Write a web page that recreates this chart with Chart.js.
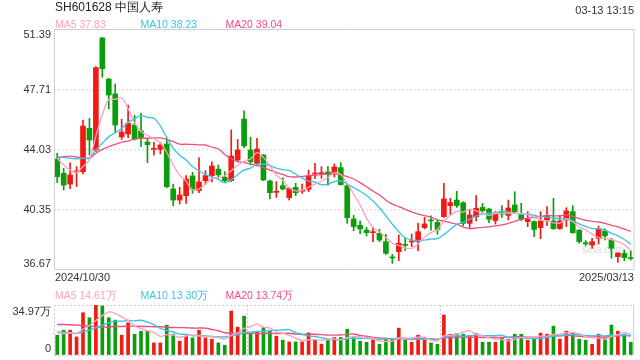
<!DOCTYPE html>
<html><head><meta charset="utf-8">
<script src="https://cdn.jsdelivr.net/npm/chart.js@4.4.1/dist/chart.umd.min.js"></script>
<style>
html,body{margin:0;padding:0;background:#fff;}
#wrap{position:relative;width:640px;height:360px;overflow:hidden;font-family:Arial,"Liberation Sans",sans-serif;}
.t{position:absolute;white-space:nowrap;line-height:1;}
canvas{position:absolute;left:0;}
</style></head><body>
<div id="wrap">
<div class="t" style="left:582px;top:244px;font-size:10.5px;color:#dcdcdc">sina.com</div>
<canvas id="pc" width="640" height="280" style="top:0;width:640px;height:280px"></canvas>
<canvas id="vc" width="640" height="70" style="top:290px;width:640px;height:70px"></canvas>
<div class="t" style="left:55px;top:1px;font-size:12px;color:#222" id="ttl"></div>
<div class="t" style="right:6px;top:4.5px;font-size:11px;color:#333" id="tm"></div>
<div class="t" style="left:55px;top:18.5px;font-size:10.5px;color:#ffa2bf" id="l1"></div>
<div class="t" style="left:140.5px;top:18.5px;font-size:10.5px;color:#3cc3e4" id="l2"></div>
<div class="t" style="left:225.5px;top:18.5px;font-size:10.5px;color:#ee4f80" id="l3"></div>
<div class="t" style="left:55px;top:271.5px;font-size:11px;color:#333" id="d1"></div>
<div class="t" style="right:6px;top:271.5px;font-size:11px;color:#333" id="d2"></div>
<div class="t" style="left:55px;top:289.5px;font-size:10.5px;color:#ffa2bf" id="v1"></div>
<div class="t" style="left:140.5px;top:289.5px;font-size:10.5px;color:#3cc3e4" id="v2"></div>
<div class="t" style="left:225.5px;top:289.5px;font-size:10.5px;color:#ee4f80" id="v3"></div>
</div>
<script>
const title = 'SH601628 中国人寿';
const timeStamp = '03-13 13:15';
const priceLegend = ['MA5 37.83', 'MA10 38.23', 'MA20 39.04'];
const volLegend = ['MA5 14.61万', 'MA10 13.30万', 'MA20 13.74万'];
const yTicks = [36.67, 40.35, 44.03, 47.71, 51.39];
const volTicks = [0, 34.97];

const dates = [
'2024/10/30','2024/10/31',
'2024/11/01','2024/11/04','2024/11/05','2024/11/06','2024/11/07','2024/11/08','2024/11/11','2024/11/12','2024/11/13','2024/11/14','2024/11/15',
'2024/11/18','2024/11/19','2024/11/20','2024/11/21','2024/11/22','2024/11/25','2024/11/26','2024/11/27','2024/11/28','2024/11/29',
'2024/12/02','2024/12/03','2024/12/04','2024/12/05','2024/12/06','2024/12/09','2024/12/10','2024/12/11','2024/12/12','2024/12/13',
'2024/12/16','2024/12/17','2024/12/18','2024/12/19','2024/12/20','2024/12/23','2024/12/24','2024/12/25','2024/12/26','2024/12/27','2024/12/30','2024/12/31',
'2025/01/02','2025/01/03','2025/01/06','2025/01/07','2025/01/08','2025/01/09','2025/01/10','2025/01/13','2025/01/14','2025/01/15','2025/01/16','2025/01/17',
'2025/01/20','2025/01/21','2025/01/22','2025/01/23','2025/01/24','2025/01/27',
'2025/02/05','2025/02/06','2025/02/07','2025/02/10','2025/02/11','2025/02/12','2025/02/13','2025/02/14','2025/02/17','2025/02/18','2025/02/19','2025/02/20','2025/02/21',
'2025/02/24','2025/02/25','2025/02/26','2025/02/27','2025/02/28',
'2025/03/03','2025/03/04','2025/03/05','2025/03/06','2025/03/07','2025/03/10','2025/03/11','2025/03/12','2025/03/13'];

const opens = [43.48,42.60,41.94,42.68,42.70,45.36,44.03,50.90,48.38,47.47,
44.83,45.01,45.56,45.20,44.52,44.07,44.07,44.40,41.64,40.96,
41.23,42.44,41.54,42.15,42.46,42.86,42.37,42.15,43.42,45.93,
44.03,43.21,43.72,42.13,41.43,41.84,41.11,41.74,41.50,41.62,
42.56,42.58,42.68,42.56,42.95,41.84,39.80,39.41,39.12,38.96,
38.92,38.41,37.45,37.80,38.22,38.39,38.41,39.27,39.72,39.59,
39.94,40.62,40.96,40.80,39.53,39.94,40.51,40.41,39.70,40.19,
40.02,40.66,40.04,39.64,39.64,39.27,39.74,39.68,39.21,39.74,
40.25,39.12,38.35,38.20,38.61,39.06,38.51,37.49,37.69,37.41];
const highs = [43.83,42.91,43.25,43.01,45.87,45.97,49.14,50.94,48.43,48.08,
45.91,46.79,46.16,46.30,44.75,44.50,44.50,44.75,41.94,41.74,
42.46,42.66,43.56,42.76,43.31,43.11,42.70,45.26,44.68,46.44,
44.81,44.75,43.76,42.19,42.09,42.33,41.72,41.99,41.94,42.80,
43.21,43.01,43.01,43.17,43.25,41.99,40.02,39.68,39.29,39.29,
39.16,38.86,37.63,38.82,38.61,38.88,39.53,39.90,40.00,39.74,
41.99,41.07,41.50,40.86,40.35,41.23,40.76,40.45,40.25,40.62,
40.96,41.47,40.76,40.25,39.68,40.25,40.56,41.07,40.00,40.49,
40.62,39.14,38.47,38.61,39.37,39.19,38.61,37.73,37.90,37.84];
const lows = [42.03,41.58,41.66,41.78,42.56,43.72,43.93,48.49,46.55,45.11,
44.68,44.79,44.64,44.23,43.25,43.72,43.79,41.72,40.62,40.72,
40.76,41.37,41.41,41.94,42.07,42.29,42.09,42.09,43.31,44.17,
43.11,43.05,42.15,41.03,41.13,41.58,40.96,41.23,41.37,41.47,
42.27,42.29,41.86,42.37,41.88,39.53,39.08,38.90,38.76,38.41,
38.41,37.63,37.08,37.24,37.86,38.10,37.86,39.19,39.12,38.86,
39.90,40.08,40.51,39.39,39.19,39.68,40.15,39.57,39.49,39.90,
39.74,40.15,39.70,39.33,38.72,38.59,39.39,39.16,39.16,39.33,
38.92,38.31,38.14,38.00,38.25,38.51,37.39,37.14,37.24,37.28];
const closes = [42.39,41.88,42.50,42.74,45.50,44.64,49.08,49.02,47.40,45.56,
45.13,45.67,44.70,44.79,44.36,44.11,44.34,41.78,40.96,41.27,
42.25,41.62,42.07,42.46,43.05,42.50,42.15,43.66,44.03,44.28,
43.31,44.09,42.19,41.41,41.50,41.64,41.68,41.41,41.54,42.46,
42.60,42.62,42.52,42.99,41.90,39.88,39.33,39.19,38.96,39.00,
38.51,37.69,37.41,38.31,38.18,38.43,39.02,39.49,39.68,39.16,
41.03,40.80,40.62,39.53,40.04,40.45,40.31,39.78,40.10,40.10,
40.47,40.25,39.78,39.78,39.16,39.68,40.00,39.21,39.68,40.29,
38.96,38.41,38.27,38.41,39.19,38.76,38.00,37.71,37.43,37.37];
// volumes in 万 (10k)
const volumes = [13.85,17.37,17.37,12.67,29.57,26.05,34.97,34.27,26.05,24.41,
13.85,22.53,14.55,16.66,16.66,8.45,8.45,20.89,14.32,9.62,
13.38,11.97,17.37,11.97,11.03,8.45,6.81,30.75,19.48,27.23,
15.02,16.19,19.25,16.90,13.14,10.33,9.15,9.15,9.15,15.49,
10.80,7.51,10.33,12.20,12.20,18.07,12.20,9.62,8.92,10.33,
7.51,11.03,10.80,18.78,10.33,8.92,13.85,10.33,8.45,7.51,
27.93,14.55,15.02,14.55,13.38,15.02,8.92,8.92,8.92,11.97,
10.80,14.55,14.55,10.33,11.50,15.26,14.55,20.18,11.03,16.66,
15.72,11.03,10.33,7.51,14.55,11.50,20.89,16.66,14.55,8.92];
// moving-average values before enough in-window history exists
const ma5Head = [43.52,43.11,42.80,42.66];
const ma10Head = [43.62,43.58,43.52,43.48,43.52,43.56,44.03,44.44,44.85];
const ma20Head = [43.52,43.62,43.66,43.60,43.54,43.52,43.83,44.07,44.23,44.38,44.50,44.58,44.70,44.75,44.75,44.77,44.77,44.68,44.54];
const vma5Head = [15.72,15.02,15.49,15.02];
const vma10Head = [16.19,16.0,15.7,15.0,16.2,17.4,19.0,20.9,22.5];
const vma20Head = [21.36,21.36,21.12,20.89,20.65,20.18,19.72,19.48,19.72,19.95,19.95,20.18,20.18,19.95,19.95,19.72,19.72,19.48,19.25];

function movingAvg(arr, n, head){
  return arr.map((v,i)=>{
    if(i < n-1) return head[i];
    let s=0; for(let k=i-n+1;k<=i;k++) s+=arr[k];
    return +(s/n).toFixed(3);
  });
}
const UP='#f21a12', DOWN='#0b9e0b';
const C5='#ffa2bf', C10='#3cc3e4', C20='#ee4f80';
const colors = closes.map((c,i)=> c>=opens[i]?UP:DOWN);
const FONT = 'Arial, "Liberation Sans", sans-serif';

document.getElementById('ttl').textContent = title;
document.getElementById('tm').textContent = timeStamp;
['l1','l2','l3'].forEach((id,i)=>document.getElementById(id).textContent=priceLegend[i]);
['v1','v2','v3'].forEach((id,i)=>document.getElementById(id).textContent=volLegend[i]);
document.getElementById('d1').textContent = dates[0];
document.getElementById('d2').textContent = dates[dates.length-1];

Chart.defaults.font.family = FONT;
const frame = (mode)=>({id:'frame'+mode, afterDraw(chart){
  const a=chart.chartArea, c=chart.ctx; c.save();
  c.strokeStyle='#cfcfcf'; c.lineWidth=1; c.setLineDash([]);
  c.beginPath();
  if(mode==='full'){ c.rect(Math.round(a.left)+0.5, Math.round(a.top)-0.5, Math.round(a.right-a.left)-0.5, Math.round(a.bottom-a.top)); }
  else { c.moveTo(Math.round(a.right)-0.5, a.top); c.lineTo(Math.round(a.right)-0.5, a.bottom); }
  c.stroke(); c.restore();
}});
const fitY = s=>{ s.width=54; s.paddingTop=0; s.paddingBottom=0; };
const lineDs = (label,data,color,w)=>({type:'line',label,data,borderColor:color,borderWidth:w,pointRadius:0,tension:0.3,fill:false,order:0});

new Chart(document.getElementById('pc'), {
  data:{labels:dates, datasets:[
    lineDs('MA5', movingAvg(closes,5,ma5Head), C5, 1.3),
    lineDs('MA10', movingAvg(closes,10,ma10Head), C10, 1.3),
    lineDs('MA20', movingAvg(closes,20,ma20Head), C20, 1.3),
    {type:'bar',label:'body',data:opens.map((o,i)=>[o,closes[i]]),backgroundColor:colors,barThickness:5,grouped:false,minBarLength:1,order:3},
    {type:'bar',label:'wick',data:lows.map((l,i)=>[l,highs[i]]),backgroundColor:colors,barThickness:1,grouped:false,order:4}
  ]},
  options:{responsive:false,animation:false,devicePixelRatio:1,
    layout:{padding:{left:0,right:6,top:30,bottom:10}},
    plugins:{legend:{display:false},tooltip:{enabled:false}},
    scales:{
      x:{type:'category',display:false,offset:true,grid:{display:false}},
      y:{position:'left',min:yTicks[0],max:yTicks[yTicks.length-1],
        afterBuildTicks:s=>{s.ticks=yTicks.map(v=>({value:v}));},
        afterFit:fitY,
        grid:{drawTicks:false,lineWidth:1.5,color:c=>(c.index>0&&c.index<yTicks.length-1)?'#e2e2e2':'rgba(0,0,0,0)'},
        border:{display:false,dash:[2,2]},
        ticks:{padding:3,color:'#333',
          font:c=>({family:FONT,size:11,lineHeight:c.index===yTicks.length-1?'9.4px':'13px'}),
          callback:(v,i)=>{const s=(+v).toFixed(2); return i===yTicks.length-1?['',s]:(i===0?[s,'']:s);}}
      }
    }
  },
  plugins:[frame('full')]
});

new Chart(document.getElementById('vc'), {
  data:{labels:dates, datasets:[
    lineDs('VMA5', movingAvg(volumes,5,vma5Head), C5, 1.4),
    lineDs('VMA10', movingAvg(volumes,10,vma10Head), C10, 1.4),
    lineDs('VMA20', movingAvg(volumes,20,vma20Head), C20, 1.4),
    {type:'bar',label:'vol',data:volumes,backgroundColor:colors,barThickness:3,grouped:false,order:3}
  ]},
  options:{responsive:false,animation:false,devicePixelRatio:1,
    layout:{padding:{left:0,right:6,top:15,bottom:5}},
    plugins:{legend:{display:false},tooltip:{enabled:false}},
    scales:{
      x:{type:'category',offset:true,ticks:{display:false},
        afterFit:s=>{s.height=0; s.paddingLeft=0; s.paddingRight=0;},
        grid:{offset:true,drawTicks:false,lineWidth:1,color:c=>([0,30,60].includes(c.index)?'#cfcfcf':'rgba(0,0,0,0)')},
        border:{display:false,dash:[2,2]}},
      y:{position:'left',min:volTicks[0],max:volTicks[1],
        afterBuildTicks:s=>{s.ticks=volTicks.map(v=>({value:v}));},
        afterFit:fitY,
        grid:{drawTicks:false,lineWidth:1,color:'#cfcfcf'},
        border:{display:false,dash:[2,2]},
        ticks:{padding:3,color:'#333',
          font:c=>({family:FONT,size:11,lineHeight:c.index===1?'14.8px':'12.6px'}),
          callback:(v,i)=> i===1?['', (+v).toFixed(2)+'万']:['0','']}
      }
    }
  },
  plugins:[frame('right')]
});
</script>
</body></html>
